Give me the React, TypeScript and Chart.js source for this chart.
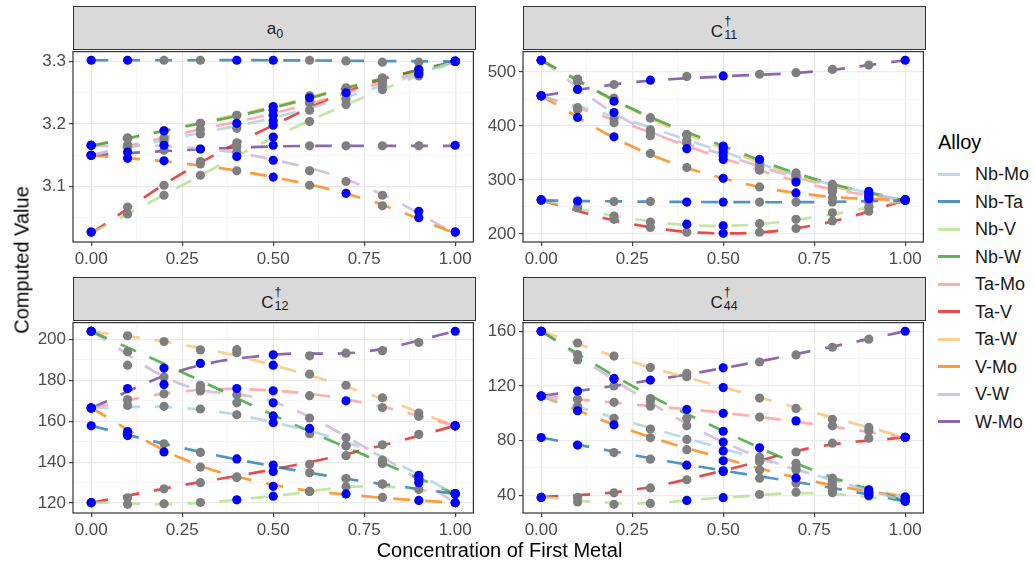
import React, { useEffect, useRef } from "react";
import { Chart, registerables } from "chart.js";
Chart.register(...registerables);

const FONT = "'Liberation Sans', Arial, Helvetica, sans-serif";

const alloys = ["Nb-Mo", "Nb-Ta", "Nb-V", "Nb-W", "Ta-Mo", "Ta-V", "Ta-W", "V-Mo", "V-W", "W-Mo"];
const alloyColors = ["#A6CEE3", "#1F78B4", "#B2DF8A", "#33A02C", "#FB9A99", "#E31A1C", "#FDBF6F", "#FF7F00", "#CAB2D6", "#6A3D9A"];
// "1" = blue (training) point at that concentration, "0" = grey point
const trainMask = ["10000100011", "11001100001", "10001100001", "10100110011", "10001101001", "10000100001", "10000100001", "11100101011", "10100100011", "11010100001"];

const concentrations = [0, 0.1, 0.2, 0.3, 0.4, 0.5, 0.6, 0.7, 0.8, 0.9, 1.0];
const curveKnots = [0, 0.25, 0.5, 0.75, 1.0];
const xTickValues = [0, 0.25, 0.5, 0.75, 1.0];
const xTickLabels = ["0.00", "0.25", "0.50", "0.75", "1.00"];

// ---- a0 ----
const a0Points = [
  [3.150, 3.165, 3.172, 3.184, 3.193, 3.205, 3.222, 3.240, 3.262, 3.280, 3.300],
  [3.302, 3.302, 3.302, 3.302, 3.302, 3.302, 3.302, 3.301, 3.299, 3.299, 3.301],
  [3.027, 3.056, 3.086, 3.118, 3.148, 3.179, 3.204, 3.231, 3.255, 3.277, 3.300],
  [3.166, 3.177, 3.189, 3.201, 3.214, 3.222, 3.242, 3.255, 3.272, 3.287, 3.300],
  [3.150, 3.166, 3.178, 3.191, 3.201, 3.214, 3.234, 3.250, 3.268, 3.283, 3.300],
  [3.027, 3.067, 3.102, 3.140, 3.170, 3.198, 3.236, 3.248, 3.272, 3.285, 3.300],
  [3.166, 3.178, 3.189, 3.201, 3.214, 3.228, 3.245, 3.258, 3.274, 3.288, 3.300],
  [3.150, 3.145, 3.141, 3.136, 3.125, 3.115, 3.102, 3.089, 3.069, 3.050, 3.027],
  [3.166, 3.163, 3.166, 3.160, 3.155, 3.142, 3.125, 3.108, 3.086, 3.060, 3.027],
  [3.150, 3.155, 3.158, 3.160, 3.164, 3.166, 3.165, 3.165, 3.165, 3.165, 3.166],
];
const a0Curves = [
  [3.150, 3.180, 3.210, 3.252, 3.300],
  [3.302, 3.302, 3.302, 3.301, 3.300],
  [3.025, 3.102, 3.178, 3.243, 3.300],
  [3.165, 3.195, 3.226, 3.265, 3.300],
  [3.150, 3.185, 3.217, 3.258, 3.300],
  [3.025, 3.121, 3.198, 3.262, 3.300],
  [3.165, 3.196, 3.228, 3.266, 3.300],
  [3.150, 3.137, 3.115, 3.080, 3.025],
  [3.165, 3.163, 3.143, 3.100, 3.025],
  [3.150, 3.158, 3.164, 3.165, 3.165],
];
const a0Ticks = [3.1, 3.2, 3.3];
const a0TickLabels = ["3.1", "3.2", "3.3"];

// ---- C11 ----
const c11Points = [
  [456, 434, 413, 389, 368, 352, 330, 306, 288, 275, 262],
  [263, 261, 260, 260, 259, 259, 259, 259, 259, 259, 263],
  [263, 248.5, 233, 222, 218, 215, 219, 227, 239, 250, 263],
  [522, 486, 446, 415, 384, 363, 338, 313, 292, 279, 263],
  [456, 430, 406, 382, 358, 338, 318, 296, 278, 267, 263],
  [263, 248.5, 227, 212, 203, 201, 203, 210, 224, 242, 263],
  [522, 487, 452, 415, 384, 358, 333, 308, 285, 272, 263],
  [456, 416, 380, 349, 323, 303, 287, 276, 267, 265, 263],
  [522, 482, 425, 393, 373, 345, 323, 300, 281, 270, 263],
  [456, 468, 477, 485, 492, 493, 496, 499, 505, 513, 522],
];
const c11Curves = [
  [456, 408, 352, 300, 262],
  [262, 260, 259, 259, 262],
  [262, 228, 215, 231, 262],
  [522, 432, 363, 302, 262],
  [456, 400, 340, 290, 262],
  [262, 218, 201, 216, 262],
  [522, 430, 358, 298, 262],
  [456, 362, 303, 272, 262],
  [522, 405, 347, 296, 262],
  [456, 481, 492, 501, 522],
];
const c11Ticks = [200, 300, 400, 500];
const c11TickLabels = ["200", "300", "400", "500"];

// ---- C12 ----
const c12Points = [
  [166.5, 167.7, 167.3, 166.0, 163.2, 159.3, 153.9, 148.0, 139.4, 130.0, 124.6],
  [157.8, 155.0, 149.0, 144.8, 141.6, 135.4, 134.8, 132.0, 129.3, 126.7, 124.6],
  [120.2, 119.4, 119.7, 120.3, 121.6, 123.4, 125.7, 128.0, 129.3, 131.5, 124.6],
  [204.0, 194.0, 186.0, 177.6, 169.0, 162.6, 156.5, 148.0, 141.0, 133.6, 124.6],
  [166.5, 170.6, 173.4, 174.8, 176.0, 174.9, 172.5, 170.0, 166.7, 162.4, 157.8],
  [120.2, 122.6, 127.0, 130.0, 132.8, 138.6, 139.0, 143.2, 148.5, 153.6, 157.8],
  [204.0, 201.8, 199.0, 194.9, 193.5, 187.4, 183.0, 177.6, 171.5, 164.0, 157.8],
  [166.5, 153.0, 145.0, 137.6, 132.5, 128.2, 125.7, 124.5, 122.8, 121.3, 120.2],
  [204.0, 187.4, 178.0, 176.0, 173.0, 169.0, 161.6, 152.0, 140.0, 132.0, 120.2],
  [166.5, 176.0, 181.7, 188.3, 195.0, 192.5, 192.0, 193.3, 194.5, 198.5, 204.0],
];
const c12Curves = [
  [166.5, 166.5, 159.5, 146.5, 124.6],
  [157.8, 147.0, 138.0, 130.6, 124.6],
  [120.2, 119.7, 123.4, 128.2, 124.6],
  [204.0, 184.0, 163.0, 143.5, 124.6],
  [166.5, 174.6, 175.0, 169.0, 157.8],
  [120.2, 128.7, 136.5, 146.0, 157.8],
  [204.0, 197.5, 187.4, 174.0, 157.8],
  [166.5, 141.8, 129.0, 123.4, 120.2],
  [204.0, 178.0, 169.5, 147.5, 120.2],
  [166.5, 185.0, 192.5, 194.0, 204.0],
];
const c12Ticks = [120, 140, 160, 180, 200];
const c12TickLabels = ["120", "140", "160", "180", "200"];

// ---- C44 ----
const c44Points = [
  [112.6, 104.9, 96.3, 88.4, 80.8, 72.4, 65.5, 58.5, 47.7, 40.0, 35.7],
  [82.2, 76.7, 71.2, 66.4, 62.0, 57.3, 52.4, 49.0, 43.5, 41.0, 35.7],
  [38.4, 35.1, 33.3, 34.0, 36.2, 38.2, 40.5, 42.2, 41.7, 39.3, 35.7],
  [160.0, 143.0, 125.5, 110.7, 96.3, 86.8, 74.7, 63.3, 52.5, 42.0, 35.7],
  [112.6, 110.2, 108.0, 105.1, 102.8, 99.9, 97.2, 94.4, 90.8, 87.2, 82.4],
  [38.4, 38.4, 41.7, 45.3, 51.3, 57.8, 64.4, 71.6, 78.1, 81.7, 82.4],
  [160.0, 151.4, 141.8, 133.4, 126.7, 118.8, 111.1, 103.5, 95.6, 89.6, 82.4],
  [112.6, 101.8, 91.5, 82.0, 73.3, 65.2, 58.4, 52.5, 45.3, 44.0, 38.6],
  [160.0, 139.0, 125.0, 108.5, 90.8, 78.9, 68.0, 60.0, 50.0, 41.8, 38.6],
  [112.6, 116.2, 120.0, 124.3, 129.1, 133.2, 137.5, 142.7, 148.3, 154.2, 160.0],
];
const c44Curves = [
  [112.6, 93.0, 74.0, 55.0, 35.7],
  [82.2, 69.5, 58.0, 47.5, 35.7],
  [38.4, 34.0, 38.2, 41.5, 35.7],
  [160.0, 120.0, 87.0, 58.0, 35.7],
  [112.6, 106.5, 100.3, 92.0, 82.4],
  [38.4, 43.8, 58.0, 75.0, 82.4],
  [160.0, 137.5, 119.0, 100.5, 82.4],
  [112.6, 87.0, 67.0, 50.0, 38.6],
  [160.0, 116.0, 79.0, 55.0, 38.6],
  [112.6, 122.0, 133.0, 146.0, 160.0],
];
const c44Ticks = [40, 80, 120, 160];
const c44TickLabels = ["40", "80", "120", "160"];

function rgba(hex: string, a: number) {
  const n = parseInt(hex.slice(1), 16);
  return `rgba(${(n >> 16) & 255},${(n >> 8) & 255},${n & 255},${a})`;
}

const borderPlugin = {
  id: "panelBorder",
  afterDraw(chart: any) {
    const { ctx, chartArea: a } = chart;
    ctx.save();
    ctx.strokeStyle = "#333333";
    ctx.lineWidth = 1.2;
    ctx.strokeRect(a.left, a.top, a.right - a.left, a.bottom - a.top);
    ctx.restore();
  },
};

type PanelProps = {
  points: number[][];
  curves: number[][];
  ticks: number[];
  tickLabels: string[];
  left: number;
  top: number;
  width: number;
  height: number;
};

const Y_AXIS_W = 50;
const X_AXIS_H = 30;
const PAD = 2;

function Panel({ points, curves, ticks, tickLabels, left, top, width, height }: PanelProps) {
  const ref = useRef<HTMLCanvasElement>(null);
  useEffect(() => {
    if (!ref.current) return;
    const datasets: any[] = [];
    const grey: any[] = [];
    const blue: any[] = [];
    points.forEach((row, i) =>
      row.forEach((v, j) => {
        (trainMask[i][j] === "1" ? blue : grey).push({ x: concentrations[j], y: v });
      })
    );
    datasets.push({ data: blue, backgroundColor: "#0000FF", pointRadius: 4.6, borderWidth: 0, order: 0 });
    datasets.push({ data: grey, backgroundColor: "#7F7F7F", pointRadius: 4.6, borderWidth: 0, order: 1 });
    curves.forEach((c, i) => {
      datasets.push({
        data: curveKnots.map((x, j) => ({ x, y: c[j] })),
        showLine: true,
        borderColor: rgba(alloyColors[i], 0.78),
        backgroundColor: rgba(alloyColors[i], 0.78),
        borderWidth: 2.7,
        borderDash: [17, 15],
        pointRadius: 0,
        tension: 0.4,
        order: 2,
      });
    });

    const all: number[] = [];
    points.forEach((r) => all.push(...r));
    curves.forEach((r) => all.push(...r));
    const lo = Math.min(...all);
    const hi = Math.max(...all);
    const pad = (hi - lo) * 0.05;
    const yMin = lo - pad;
    const yMax = hi + pad;

    const step = ticks[1] - ticks[0];
    const yGrid: number[] = [];
    for (let k = -1; k < ticks.length; k++) {
      const base = ticks[0] + k * step;
      if (base >= yMin && base <= yMax && k >= 0) yGrid.push(base);
      const mid = base + step / 2;
      if (mid >= yMin && mid <= yMax) yGrid.push(mid);
    }
    yGrid.sort((a, b) => a - b);
    const xGrid = [0, 0.125, 0.25, 0.375, 0.5, 0.625, 0.75, 0.875, 1.0];

    const isMajor = (arr: number[], v: number) => arr.some((m) => Math.abs(m - v) < 1e-9);

    const gridCfg = (arr: number[]) => ({
      color: (c: any) => (c.tick && isMajor(arr, c.tick.value) ? "#EBEBEB" : "#F2F2F2"),
      lineWidth: (c: any) => (c.tick && isMajor(arr, c.tick.value) ? 1.3 : 0.7),
      tickColor: (c: any) => (c.tick && isMajor(arr, c.tick.value) ? "#333333" : "rgba(0,0,0,0)"),
      tickWidth: 1.1,
      tickLength: 4,
      drawTicks: true,
    });

    const chart = new Chart(ref.current, {
      type: "scatter",
      data: { datasets },
      options: {
        animation: false,
        responsive: false,
        devicePixelRatio: 1,
        events: [],
        layout: { padding: { left: 0, right: PAD, top: PAD, bottom: 0 } },
        plugins: { legend: { display: false }, tooltip: { enabled: false } },
        scales: {
          x: {
            type: "linear",
            min: -0.05,
            max: 1.05,
            afterBuildTicks: (s: any) => {
              s.ticks = xGrid.map((v) => ({ value: v }));
            },
            afterFit: (s: any) => {
              s.height = X_AXIS_H;
              s.paddingLeft = 0;
              s.paddingRight = 0;
            },
            ticks: {
              autoSkip: false,
              maxRotation: 0,
              padding: 3,
              color: "#4D4D4D",
              font: { family: FONT, size: 17 },
              callback: (v: any) => {
                const i = xTickValues.findIndex((m) => Math.abs(m - v) < 1e-9);
                return i >= 0 ? xTickLabels[i] : "";
              },
            },
            grid: gridCfg(xTickValues),
            border: { display: false },
          },
          y: {
            type: "linear",
            min: yMin,
            max: yMax,
            afterBuildTicks: (s: any) => {
              s.ticks = yGrid.map((v) => ({ value: v }));
            },
            afterFit: (s: any) => {
              s.width = Y_AXIS_W;
              s.paddingTop = 0;
              s.paddingBottom = 0;
            },
            ticks: {
              autoSkip: false,
              padding: 3,
              color: "#4D4D4D",
              font: { family: FONT, size: 17 },
              callback: (v: any) => {
                const i = ticks.findIndex((m) => Math.abs(m - v) < 1e-9);
                return i >= 0 ? tickLabels[i] : "";
              },
            },
            grid: gridCfg(ticks),
            border: { display: false },
          },
        },
      } as any,
      plugins: [borderPlugin],
    });
    return () => chart.destroy();
  }, []);
  const cw = Math.round(width + Y_AXIS_W + PAD);
  const ch = Math.round(height + X_AXIS_H + PAD);
  return (
    <canvas
      ref={ref}
      width={cw}
      height={ch}
      style={{ position: "absolute", left: left - Y_AXIS_W, top: top - PAD, width: cw, height: ch }}
    />
  );
}

function Strip({ left, top, width, height, children }: any) {
  return (
    <div
      style={{
        position: "absolute",
        left,
        top,
        width,
        height,
        boxSizing: "border-box",
        background: "#D9D9D9",
        border: "1.2px solid #333333",
        display: "flex",
        alignItems: "center",
        justifyContent: "center",
        fontFamily: FONT,
        fontSize: 17,
        color: "#1A1A1A",
      }}
    >
      {children}
    </div>
  );
}

function CLabel({ sub }: { sub: string }) {
  return (
    <span style={{ display: "inline-flex", alignItems: "center", lineHeight: 1 }}>
      <span style={{ marginTop: 6 }}>C</span>
      <span
        style={{
          display: "inline-flex",
          flexDirection: "column",
          fontSize: 12.5,
          lineHeight: 1,
          marginLeft: 1,
          alignItems: "flex-start",
        }}
      >
        <span>†</span>
        <span style={{ marginTop: 1 }}>{sub}</span>
      </span>
    </span>
  );
}

const COL_L = [73.4, 522.5];
const ROW_T = [49, 320];
const PANEL_W = 403;
const PANEL_H = 193;
const STRIP_H = 43;

export default function App() {
  return (
    <div
      style={{
        position: "fixed",
        left: 0,
        top: 0,
        width: 1035,
        height: 567,
        background: "#FFFFFF",
        overflow: "hidden",
        fontFamily: FONT,
      }}
    >
      <Strip left={COL_L[0]} top={ROW_T[0] - STRIP_H} width={PANEL_W} height={STRIP_H + 1}>
        <span style={{ lineHeight: 1 }}>
          a<span style={{ fontSize: 12.5, position: "relative", top: 4 }}>0</span>
        </span>
      </Strip>
      <Strip left={COL_L[1]} top={ROW_T[0] - STRIP_H} width={PANEL_W} height={STRIP_H + 1}>
        <CLabel sub="11" />
      </Strip>
      <Strip left={COL_L[0]} top={ROW_T[1] - STRIP_H} width={PANEL_W} height={STRIP_H + 1}>
        <CLabel sub="12" />
      </Strip>
      <Strip left={COL_L[1]} top={ROW_T[1] - STRIP_H} width={PANEL_W} height={STRIP_H + 1}>
        <CLabel sub="44" />
      </Strip>

      <Panel points={a0Points} curves={a0Curves} ticks={a0Ticks} tickLabels={a0TickLabels} left={COL_L[0]} top={ROW_T[0]} width={PANEL_W} height={PANEL_H} />
      <Panel points={c11Points} curves={c11Curves} ticks={c11Ticks} tickLabels={c11TickLabels} left={COL_L[1]} top={ROW_T[0]} width={PANEL_W} height={PANEL_H} />
      <Panel points={c12Points} curves={c12Curves} ticks={c12Ticks} tickLabels={c12TickLabels} left={COL_L[0]} top={ROW_T[1]} width={PANEL_W} height={PANEL_H} />
      <Panel points={c44Points} curves={c44Curves} ticks={c44Ticks} tickLabels={c44TickLabels} left={COL_L[1]} top={ROW_T[1]} width={PANEL_W} height={PANEL_H} />

      <div
        style={{
          position: "absolute",
          left: 22,
          top: 259.5,
          transform: "translate(-50%, -50%) rotate(-90deg)",
          fontSize: 20,
          color: "#000",
          whiteSpace: "nowrap",
        }}
      >
        Computed Value
      </div>
      <div
        style={{
          position: "absolute",
          left: 499.5,
          top: 550,
          transform: "translate(-50%, -50%)",
          fontSize: 20,
          color: "#000",
          whiteSpace: "nowrap",
        }}
      >
        Concentration of First Metal
      </div>

      <div style={{ position: "absolute", left: 938, top: 142, transform: "translateY(-50%)", fontSize: 20, color: "#000" }}>
        Alloy
      </div>
      {alloys.map((name, i) => (
        <React.Fragment key={name}>
          <div
            style={{
              position: "absolute",
              left: 938,
              top: 174 + i * 27.5 - 1.5,
              width: 22,
              height: 3,
              background: rgba(alloyColors[i], 0.78),
            }}
          />
          <div
            style={{
              position: "absolute",
              left: 975,
              top: 174 + i * 27.5,
              transform: "translateY(-50%)",
              fontSize: 18,
              color: "#1A1A1A",
              whiteSpace: "nowrap",
            }}
          >
            {name}
          </div>
        </React.Fragment>
      ))}
    </div>
  );
}
